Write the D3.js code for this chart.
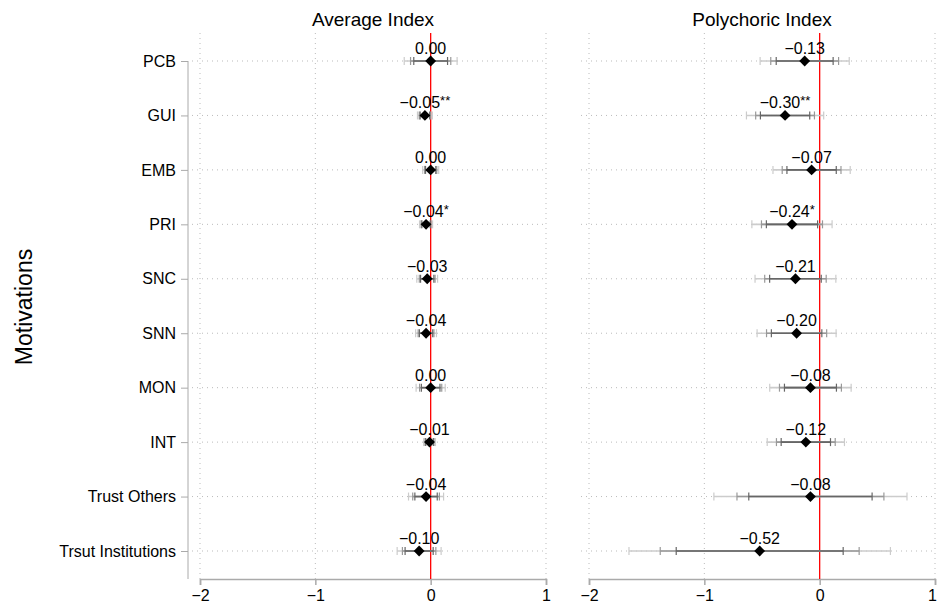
<!DOCTYPE html>
<html><head><meta charset="utf-8">
<script src="https://cdn.jsdelivr.net/npm/d3@7"></script>
<style>
body{margin:0;background:#fff;}
text{font-family:"Liberation Sans",Arial,sans-serif;fill:#000;}
</style></head>
<body><svg id="c" width="937" height="606"></svg>
<script>
const categories = ["PCB","GUI","EMB","PRI","SNC","SNN","MON","INT","Trust Others","Trsut Institutions"];
const panelTitles = ["Average Index","Polychoric Index"];
const avgEst   = [0.00,-0.05,0.00,-0.04,-0.03,-0.04,0.00,-0.01,-0.04,-0.10];
const avgStars = ["","**","","*","","","","","",""];
const avgSE    = [0.089,0.025,0.027,0.022,0.035,0.035,0.049,0.020,0.059,0.074];
const polyEst   = [-0.13,-0.30,-0.07,-0.24,-0.21,-0.20,-0.08,-0.12,-0.08,-0.52];
const polyStars = ["","**","","*","","","","","",""];
const polySE    = [0.150,0.130,0.130,0.135,0.136,0.133,0.137,0.130,0.325,0.440];
const xTicks = [-2,-1,0,1];
const ciZ = [2.576,1.96,1.645];
const ciColors = ["#cccccc","#999999","#666666"];

(function(){
const svg = d3.select("#c");
const y = d3.scalePoint().domain(categories).range([61,551]);
const plotTop = 33, axisY = 579;

const panels = [
  {title:panelTitles[0], est:avgEst, se:avgSE, stars:avgStars, x:d3.scaleLinear().domain([-2,1]).range([200,546]), gridL:188},
  {title:panelTitles[1], est:polyEst, se:polySE, stars:polyStars, x:d3.scaleLinear().domain([-2,1]).range([589,935]), gridL:577}
];

const yAxis = svg.append("g").attr("transform","translate(188,0)")
  .call(d3.axisLeft(y).tickSize(7).tickPadding(5));
yAxis.select(".domain").attr("stroke","#aaa").attr("d","M0,61V"+axisY);
yAxis.selectAll(".tick line").attr("stroke","#aaa");
yAxis.selectAll(".tick text").attr("font-size",16).attr("font-family","Liberation Sans, Arial, sans-serif").attr("fill","#000");

svg.append("text").attr("transform","translate(32,307) rotate(-90)")
  .attr("text-anchor","middle").attr("font-size",23).text("Motivations");

const fmt = v => (v<0?"\u2212":"") + Math.abs(v).toFixed(2);

panels.forEach((p,pi)=>{
  const g = svg.append("g");
  const x = p.x;
  g.selectAll(".vg").data(xTicks.filter(t=>t!==0)).enter().append("line")
    .attr("x1",d=>x(d)).attr("x2",d=>x(d)).attr("y1",plotTop).attr("y2",axisY)
    .attr("stroke","#bbb").attr("stroke-width",1).attr("stroke-dasharray","1,4");
  g.selectAll(".hg").data(categories).enter().append("line")
    .attr("x1",p.gridL+4).attr("x2",x.range()[1]).attr("y1",d=>y(d)).attr("y2",d=>y(d))
    .attr("stroke","#bbb").attr("stroke-width",1).attr("stroke-dasharray","1,4");
  const xa = g.append("g").attr("transform","translate(0,"+axisY+")")
    .call(d3.axisBottom(x).tickValues(xTicks).tickSize(6).tickPadding(5).tickFormat(d=>d<0?"\u2212"+Math.abs(d):String(d)));
  xa.select(".domain").attr("stroke","#aaa").attr("stroke-width",1.5);
  xa.selectAll(".tick line").attr("stroke","#aaa").attr("stroke-width",1.5);
  xa.selectAll(".tick text").attr("font-size",16).attr("font-family","Liberation Sans, Arial, sans-serif").attr("fill","#000");
  if(pi===1) xa.selectAll(".tick text").filter(d=>d===1).attr("x",-3);
  g.append("line").attr("x1",x(0)).attr("x2",x(0)).attr("y1",plotTop).attr("y2",axisY)
    .attr("stroke","#ff0000").attr("stroke-width",1.3);
  svg.append("text").attr("x",(x.range()[0]+x.range()[1])/2).attr("y",26)
    .attr("text-anchor","middle").attr("font-size",19).text(p.title);
  categories.forEach((c,i)=>{
    const yy = y(c), e = p.est[i], s = p.se[i];
    ciZ.forEach((z,k)=>{
      const lo = e - z*s, hi = e + z*s;
      g.append("line").attr("x1",x(lo)).attr("x2",x(hi)).attr("y1",yy).attr("y2",yy)
        .attr("stroke",ciColors[k]).attr("stroke-width",1.6);
      [lo,hi].forEach(v=>{
        g.append("line").attr("x1",x(v)).attr("x2",x(v)).attr("y1",yy-4).attr("y2",yy+4)
          .attr("stroke",ciColors[k]).attr("stroke-width",1.2);
      });
    });
    g.append("path").attr("d",d3.symbol(d3.symbolDiamond2,75)())
      .attr("transform","translate("+x(e)+","+yy+")").attr("fill","#000");
    const t = g.append("text").attr("x",x(e)).attr("y",yy-7).attr("text-anchor","middle").attr("font-size",16);
    t.append("tspan").text(fmt(e));
    if(p.stars[i]) t.append("tspan").attr("font-size",13).attr("dy",-3).text(p.stars[i]);
  });
});
})();
</script></body></html>
